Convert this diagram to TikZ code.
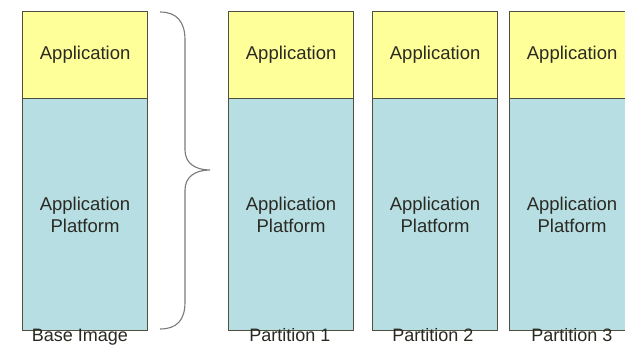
\documentclass[tikz,border=0pt]{standalone}
\usepackage{fontspec}
\setmainfont{Liberation Sans}
\definecolor{appyellow}{HTML}{FFFF99}
\definecolor{platblue}{HTML}{B7DEE3}
\definecolor{boxline}{HTML}{4F4F3F}
\definecolor{braceline}{HTML}{7A7A7A}
\definecolor{txt}{HTML}{2A2A22}
\begin{document}
\begin{tikzpicture}[x=1pt,y=-1pt,
  appbox/.style={draw=boxline,line width=1.3pt,fill=appyellow,minimum width=125pt,minimum height=87pt,inner sep=0pt,anchor=north west,font=\fontsize{18.5}{22}\selectfont,text=txt,align=center},
  platbox/.style={draw=boxline,line width=1.1pt,fill=platblue,minimum width=125pt,minimum height=232pt,inner sep=0pt,anchor=north west,font=\fontsize{18.5}{22}\selectfont,text=txt,align=center},
  lbl/.style={font=\fontsize{18}{21}\selectfont,text=txt,inner sep=0pt,anchor=base},
  bracestyle/.style={draw=braceline,line width=1.1pt}]
\useasboundingbox (0,0) rectangle (625,347);
\clip (0,0) rectangle (625,347);
\fill[white] (0,0) rectangle (625,347);
% base image
\node[platbox] (bp) at (22,98) {Application\\Platform};
\node[appbox] (ba) at (22,11) {Application};
\node[lbl] (bl) at (80,342) {Base Image};
% partitions
\node[platbox] (p1p) at (228,98) {Application\\Platform};
\node[appbox] (p1a) at (228,11) {Application};
\node[lbl] (p1l) at (290,342) {Partition 1};
\node[platbox] (p2p) at (372,98) {Application\\Platform};
\node[appbox] (p2a) at (372,11) {Application};
\node[lbl] (p2l) at (433,342) {Partition 2};
\node[platbox] (p3p) at (509,98) {Application\\Platform};
\node[appbox] (p3a) at (509,11) {Application};
\node[lbl] (p3l) at (572,342) {Partition 3};
% brace
\coordinate (bt) at (160,12);
\coordinate (bb) at (160,329);
\coordinate (tip) at (210,170);
\draw[bracestyle] (bt) .. controls (177,12) and (185,22) .. (185,40)
  -- (185,150) .. controls (185,163) and (195,170) .. (tip)
  .. controls (195,170) and (185,177) .. (185,190)
  -- (185,302) .. controls (185,320) and (177,329) .. (bb);
\end{tikzpicture}
\end{document}
